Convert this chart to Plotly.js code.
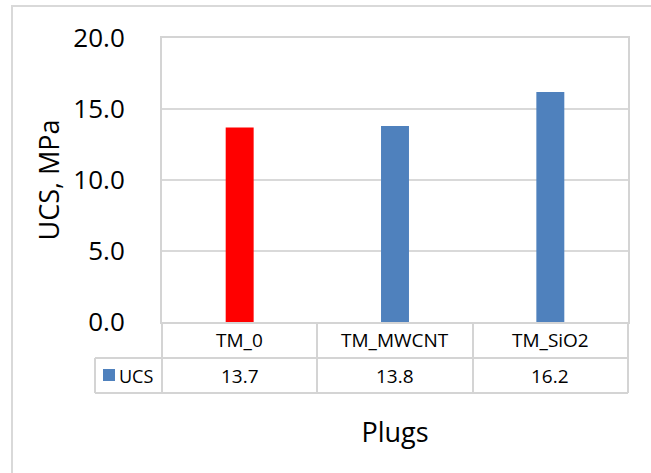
<!DOCTYPE html>
<html><head><meta charset="utf-8">
<script src="https://cdn.plot.ly/plotly-3.0.1.min.js"></script>
<style>html,body{margin:0;padding:0;background:#fff}</style>
</head><body><div id="chart" style="width:651px;height:473px"></div>
<script>
const categories = ['TM_0', 'TM_MWCNT', 'TM_SiO2'];
const ucsValues = [13.7, 13.8, 16.2];
const barColors = ['#FF0000', '#4F81BD', '#4F81BD'];
const seriesName = 'UCS';
const yTicks = [0, 5, 10, 15, 20];
const yTickLabels = ['0.0', '5.0', '10.0', '15.0', '20.0'];

const L = 162, R = 628, T = 38, B = 322;
const px = x => (x - L) / (R - L);
const py = y => (B - y) / (B - T);
const FONT = 'Open Sans, Noto Sans, sans-serif';
const gridCol = '#d9d9d9';
const lineCol = '#d4d4d4';

function line(x0, y0, x1, y1) {
  return {type: 'line', xref: 'paper', yref: 'paper', x0: px(x0), y0: py(y0), x1: px(x1), y1: py(y1),
          line: {color: lineCol, width: 2}, layer: 'above'};
}

const shapes = [
  {type: 'rect', xref: 'paper', yref: 'paper', x0: px(12), y0: py(6), x1: px(700), y1: py(520),
   line: {color: gridCol, width: 2}, layer: 'below'},
  line(95, 358, 628, 358),
  line(95, 393, 628, 393),
  line(95, 358, 95, 393),
  line(162, 322, 162, 393),
  line(317, 322, 317, 393),
  line(473, 322, 473, 393),
  line(628, 322, 628, 393),
  {type: 'rect', xref: 'paper', yref: 'paper', x0: px(103), y0: py(369), x1: px(115), y1: py(381),
   fillcolor: '#4F81BD', line: {width: 0}}
];

const annotations = [];
categories.forEach((c, i) => {
  annotations.push({x: c, xref: 'x', y: py(340), yref: 'paper', text: c, showarrow: false,
                    font: {family: FONT, size: 19, color: '#000'}, xanchor: 'center', yanchor: 'middle'});
  annotations.push({x: c, xref: 'x', y: py(375.5), yref: 'paper', text: ucsValues[i].toFixed(1), showarrow: false,
                    font: {family: FONT, size: 19, color: '#000'}, xanchor: 'center', yanchor: 'middle'});
});
annotations.push({x: px(117), xref: 'paper', y: py(375.5), yref: 'paper', text: seriesName, showarrow: false,
                  font: {family: FONT, size: 18, color: '#000'}, xanchor: 'left', yanchor: 'middle'});

const data = [{
  type: 'bar', x: categories, y: ucsValues, name: seriesName,
  marker: {color: barColors, line: {width: 0}}, width: 0.18, hoverinfo: 'x+y'
}];

const layout = {
  width: 651, height: 473,
  margin: {l: L, r: 651 - R, t: T, b: 473 - B},
  paper_bgcolor: '#fff', plot_bgcolor: '#fff',
  showlegend: false,
  font: {family: FONT, color: '#000'},
  xaxis: {
    type: 'category', showticklabels: false, ticks: '', showgrid: false,
    showline: true, linecolor: lineCol, linewidth: 2, mirror: true, zeroline: false,
    title: {text: 'Plugs', font: {family: FONT, size: 27, color: '#000'}, standoff: 100}
  },
  yaxis: {
    range: [0, 20], tickvals: yTicks, ticktext: yTickLabels, ticks: '',
    tickfont: {family: FONT, size: 26, color: '#000'}, ticklabelstandoff: 30,
    showgrid: true, gridcolor: gridCol, gridwidth: 2,
    showline: true, linecolor: lineCol, linewidth: 2, mirror: true, zeroline: false,
    title: {text: 'UCS, MPa', font: {family: FONT, size: 27, color: '#000'}, standoff: 6}
  },
  shapes: shapes,
  annotations: annotations
};

Plotly.newPlot('chart', data, layout, {displayModeBar: false, staticPlot: true});
</script>
</body></html>
